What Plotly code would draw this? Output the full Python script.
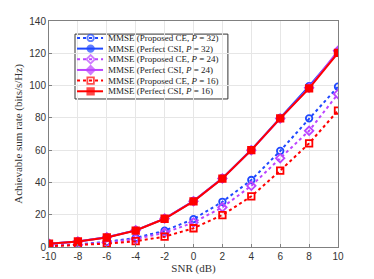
import plotly.graph_objects as go

snr = [-10, -8, -6, -4, -2, 0, 2, 4, 6, 8, 10]

ce_p32 = [0.8, 1.6, 3.2, 5.6, 10.1, 17.3, 28.0, 41.5, 59.5, 79.7, 99.3]
pc_p32 = [2.0, 3.4, 6.0, 10.3, 17.6, 28.5, 42.6, 60.2, 80.0, 99.6, 120.5]
ce_p24 = [0.7, 1.4, 2.8, 5.0, 8.8, 15.2, 24.6, 37.9, 55.0, 72.0, 94.8]
pc_p24 = [2.0, 3.4, 6.0, 10.3, 17.6, 28.4, 42.5, 60.0, 79.6, 98.6, 121.5]
ce_p16 = [0.5, 1.1, 2.1, 3.6, 6.4, 11.6, 19.8, 31.4, 47.3, 64.2, 84.5]
pc_p16 = [2.0, 3.4, 5.9, 10.2, 17.5, 28.3, 42.4, 60.0, 79.7, 98.3, 120.2]

names = [
    "MMSE (Proposed CE, <i>P</i> = 32)",
    "MMSE (Perfect CSI, <i>P</i> = 32)",
    "MMSE (Proposed CE, <i>P</i> = 24)",
    "MMSE (Perfect CSI, <i>P</i> = 24)",
    "MMSE (Proposed CE, <i>P</i> = 16)",
    "MMSE (Perfect CSI, <i>P</i> = 16)",
]
xtick_vals = [-10, -8, -6, -4, -2, 0, 2, 4, 6, 8, 10]
xtick_text = ["-10", "-8", "-6", "-4", "-2", "0", "2", "4", "6", "8", "10"]
ytick_vals = [0, 20, 40, 60, 80, 100, 120, 140]

blue = "#1f48ff"
purple = "#bb44ff"
red = "#ff0000"

series = [
    (ce_p32, blue, "dot", "circle-open"),
    (pc_p32, blue, "solid", "circle"),
    (ce_p24, purple, "dot", "diamond-open"),
    (pc_p24, purple, "solid", "diamond"),
    (ce_p16, red, "dot", "square-open"),
    (pc_p16, red, "solid", "square"),
]

fig = go.Figure()
for (vals, col, dash, sym), nm in zip(series, names):
    fig.add_trace(go.Scatter(
        x=snr, y=vals, name=nm, mode="lines+markers", showlegend=False,
        line=dict(color=col, width=2, dash=dash),
        marker=dict(symbol=sym, size=6.5, color=col, line=dict(color=col, width=1.8)),
    ))

# Compact legend (MATLAB style) drawn in a hidden overlay axis (0..1 in paper space)
leg_x0, leg_x1, leg_y0, leg_y1 = 0.090, 0.619, 0.655, 0.942
row_top, row_step = 0.925, 0.0472
samp_x = [0.097, 0.144, 0.187]
for i, ((vals, col, dash, sym), nm) in enumerate(zip(series, names)):
    yr = row_top - i * row_step
    fig.add_trace(go.Scatter(
        x=samp_x, y=[yr] * 3, xaxis="x2", yaxis="y2", mode="lines+markers",
        showlegend=False, hoverinfo="skip",
        line=dict(color=col, width=2, dash=dash),
        marker=dict(symbol=sym, size=[0, 6.5, 0], color=col, line=dict(color=col, width=1.8)),
    ))
    fig.add_annotation(
        x=0.197, y=yr, xref="paper", yref="paper", text=nm, showarrow=False,
        xanchor="left", yanchor="middle",
        font=dict(family="Liberation Serif, DejaVu Serif", size=9, color="#222222"),
    )
fig.add_shape(type="rect", xref="paper", yref="paper",
              x0=leg_x0, x1=leg_x1, y0=leg_y0, y1=leg_y1,
              line=dict(color="#333333", width=1), fillcolor="white", layer="below")

axis_common = dict(
    showline=True, linecolor="#808080", linewidth=1, mirror=True,
    showgrid=True, gridcolor="#e6e6e6", gridwidth=1,
    ticks="inside", ticklen=3, tickcolor="#808080",
    tickfont=dict(family="Liberation Sans, Arial", size=10, color="#333333"),
    zeroline=False, automargin=False,
)

fig.update_layout(
    width=366, height=271,
    margin=dict(l=41, r=36, t=13, b=32),
    paper_bgcolor="white", plot_bgcolor="white",
    showlegend=False,
    xaxis=dict(
        range=[-10, 10], tickvals=xtick_vals, ticktext=xtick_text,
        title=dict(text="SNR (dB)", standoff=2,
                   font=dict(family="Liberation Serif, DejaVu Serif", size=11, color="#333333")),
        **axis_common,
    ),
    yaxis=dict(
        range=[0, 140], tickvals=ytick_vals,
        title=dict(text="Achievable sum rate (bits/s/Hz)", standoff=4,
                   font=dict(family="Liberation Serif, DejaVu Serif", size=11, color="#333333")),
        **axis_common,
    ),
    xaxis2=dict(overlaying="x", range=[0, 1], visible=False, fixedrange=True),
    yaxis2=dict(overlaying="y", range=[0, 1], visible=False, fixedrange=True),
)

fig.write_html("out.html")
